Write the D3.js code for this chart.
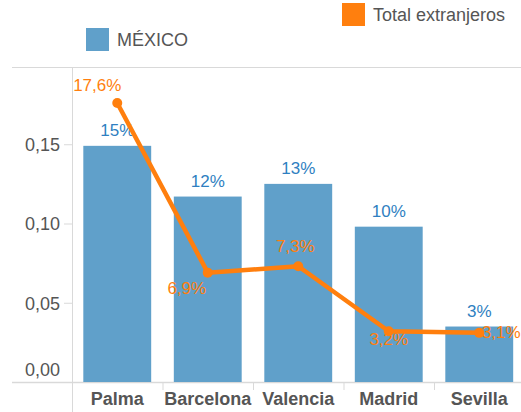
<!DOCTYPE html>
<html>
<head>
<meta charset="utf-8">
<script src="https://cdn.jsdelivr.net/npm/d3@7"></script>
<style>
  body { margin: 0; background: #fff; }
  svg { display: block; font-family: Arial, "Liberation Sans", sans-serif; }
</style>
</head>
<body>
<div id="chart"></div>
<script>
// data
const cities = ['Palma', 'Barcelona', 'Valencia', 'Madrid', 'Sevilla'];
const mexico = [0.149, 0.117, 0.125, 0.098, 0.035];
const mexicoLabels = ['15%', '12%', '13%', '10%', '3%'];
const extranjeros = [0.176, 0.069, 0.073, 0.032, 0.031];
const extLabels = ['17,6%', '6,9%', '7,3%', '3,2%', '3,1%'];
const yTicks = [0, 0.05, 0.10, 0.15];

const W = 521, H = 412;
const BLUE = '#60a0ca', ORANGE = '#ff7f0e', LBLUE = '#2f7fc1', GRID = '#d9d9d9', TXT = '#555';

const svg = d3.select('#chart').append('svg').attr('width', W).attr('height', H);

const x = d3.scaleBand().domain(cities).range([72, 524.5]).paddingInner(0.25).paddingOuter(0.125);
const y = d3.scaleLinear().domain([0, 0.2]).range([382, 65]);

// frame lines
svg.append('line').attr('x1', 12).attr('x2', W).attr('y1', 67.5).attr('y2', 67.5).attr('stroke', GRID);
svg.append('line').attr('x1', 12).attr('x2', W).attr('y1', 382.5).attr('y2', 382.5).attr('stroke', GRID).attr('stroke-width', 1.5);
svg.append('line').attr('x1', 72.5).attr('x2', 72.5).attr('y1', 67).attr('y2', H).attr('stroke', GRID);

// separators below the baseline
const seps = cities.slice(1).map(c => x(c) - x.step() * x.paddingInner() / 2);
svg.selectAll('.sep').data(seps).enter().append('line')
  .attr('x1', d => d + 0.5).attr('x2', d => d + 0.5)
  .attr('y1', 383).attr('y2', 390).attr('stroke', GRID);

// y axis
const yAxis = svg.append('g').attr('transform', 'translate(72,0)')
  .call(d3.axisLeft(y).tickValues(yTicks).tickSize(8).tickPadding(4)
    .tickFormat(d => d3.format('.2f')(d).replace('.', ',')));
yAxis.select('.domain').remove();
yAxis.selectAll('line').attr('stroke', GRID);
yAxis.selectAll('text').attr('fill', TXT).style('font-size', '18px')
  .attr('dy', d => d === 0 ? '-0.35em' : '0.35em');

// x labels
svg.selectAll('.xl').data(cities).enter().append('text')
  .attr('x', d => x(d) + x.bandwidth() / 2).attr('y', 405)
  .attr('text-anchor', 'middle').attr('fill', TXT)
  .style('font-size', '18px').style('font-weight', 'bold')
  .text(d => d);

// bars
svg.selectAll('.bar').data(mexico).enter().append('rect')
  .attr('x', (d, i) => x(cities[i])).attr('width', x.bandwidth())
  .attr('y', d => y(d)).attr('height', d => y(0) - y(d))
  .attr('fill', BLUE);

svg.selectAll('.bl').data(mexico).enter().append('text')
  .attr('x', (d, i) => x(cities[i]) + x.bandwidth() / 2)
  .attr('y', d => y(d) - 10)
  .attr('text-anchor', 'middle').attr('fill', LBLUE).style('font-size', '17px')
  .text((d, i) => mexicoLabels[i]);

// line
const cx = i => x(cities[i]) + x.bandwidth() / 2;
const line = d3.line().x((d, i) => cx(i)).y(d => y(d));
svg.append('path').datum(extranjeros).attr('d', line)
  .attr('fill', 'none').attr('stroke', ORANGE).attr('stroke-width', 4.5)
  .attr('stroke-linejoin', 'round');
svg.selectAll('.dot').data(extranjeros).enter().append('circle')
  .attr('cx', (d, i) => cx(i)).attr('cy', d => y(d)).attr('r', 5).attr('fill', ORANGE);

// line labels, offsets as placed in the original
const offs = [[-20, -12], [-21, 21], [-3, -14], [0, 14], [22, 5]];
svg.selectAll('.ol').data(extranjeros).enter().append('text')
  .attr('x', (d, i) => cx(i) + offs[i][0])
  .attr('y', (d, i) => y(d) + offs[i][1])
  .attr('text-anchor', 'middle').attr('fill', ORANGE).style('font-size', '17px')
  .text((d, i) => extLabels[i]);

// legend
svg.append('rect').attr('x', 86).attr('y', 28).attr('width', 23).attr('height', 23).attr('fill', BLUE);
svg.append('text').attr('x', 117).attr('y', 46).attr('fill', TXT).style('font-size', '18px').text('MÉXICO');
svg.append('rect').attr('x', 342).attr('y', 3).attr('width', 23).attr('height', 23).attr('fill', ORANGE);
svg.append('text').attr('x', 373).attr('y', 21).attr('fill', TXT).style('font-size', '18px').text('Total extranjeros');
</script>
</body>
</html>
